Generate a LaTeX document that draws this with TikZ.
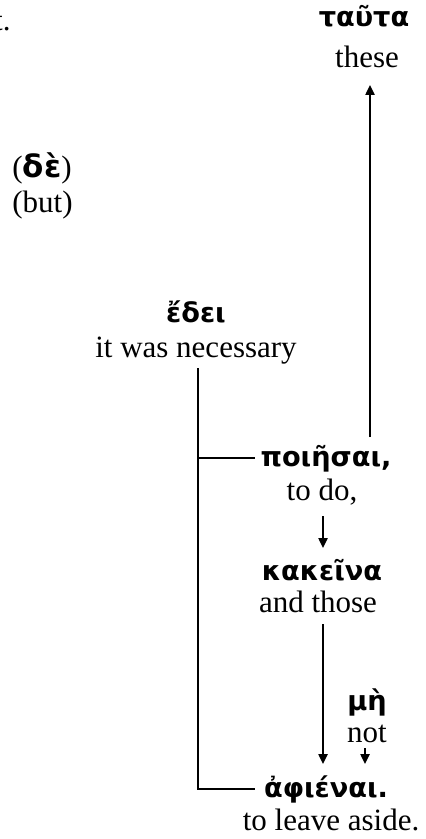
\documentclass[tikz,border=0pt]{standalone}
\usepackage{fontspec}
\setmainfont{Liberation Serif}
\newfontfamily\grk{DejaVu Sans}
\usetikzlibrary{arrows.meta}
\begin{document}
\begin{tikzpicture}[x=0.5pt,y=-0.5pt,
  gk/.style={inner sep=0pt,anchor=base,font=\grk\bfseries\fontsize{13.6}{15}\selectfont},
  en/.style={inner sep=0pt,anchor=base,font=\fontsize{15.5}{17}\selectfont},
  ln/.style={line width=0.9pt},
  arr/.style={line width=0.9pt,-{Triangle[length=5pt,width=4.6pt]}}]
\useasboundingbox (0,0) rectangle (425,839);
% texts
\node[en,anchor=base east] (t0) at (11,31) {t.};
\node[gk] (g1) at (364,27) {ταῦτα};
\node[en] (e1) at (367,68) {these};
\node[en,anchor=base west] (g2) at (12,178) {({\grk\bfseries δὲ})};
\node[en,anchor=base west] (e2) at (12,213) {(but)};
\node[gk] (g3) at (196,322) {ἔδει};
\node[en] (e3) at (196,357) {it was necessary};
\node[gk] (g4) at (326,466) {ποιῆσαι,};
\node[en] (e4) at (322,500) {to do,};
\node[gk] (g5) at (322,580) {κακεῖνα};
\node[en] (e5) at (318,612) {and those};
\node[gk] (g6) at (367,710) {μὴ};
\node[en] (e6) at (367,742) {not};
\node[gk] (g7) at (326,797) {ἀφιέναι.};
\node[en] (e7) at (331,830) {to leave aside.};
% connector points
\coordinate (v0) at (198,368);
\coordinate (v1) at (198,458);
\coordinate (v2) at (198,789);
\coordinate (h1) at (255,458);
\coordinate (h2) at (255,789);
\coordinate (a1s) at (370,437);
\coordinate (a1e) at (370,85);
\coordinate (a2s) at (323,516);
\coordinate (a2e) at (323,548);
\coordinate (a3s) at (323,624);
\coordinate (a3e) at (323,764);
\coordinate (a4s) at (365,748);
\coordinate (a4e) at (365,764);
% connectors
\draw[ln] (v0) -- (v2) -- (h2);
\draw[ln] (v1) -- (h1);
\draw[arr] (a1s) -- (a1e);
\draw[arr] (a2s) -- (a2e);
\draw[arr] (a3s) -- (a3e);
\draw[arr] (a4s) -- (a4e);
\end{tikzpicture}
\end{document}
